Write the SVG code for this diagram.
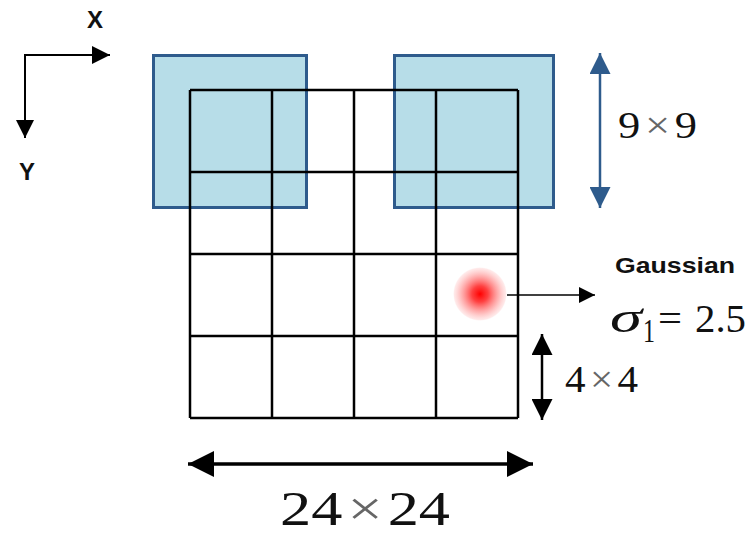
<svg xmlns="http://www.w3.org/2000/svg" width="747" height="536" viewBox="0 0 747 536">
<style>
.win{fill:#b7dde8;stroke:#2e5b8c;stroke-width:3}
.grid line{stroke:#000;stroke-width:2.5}
.ax{stroke:#000;stroke-width:2;fill:none}
.blk{stroke:#000;fill:none}
.blu{stroke:#2e5b8c;fill:none}
.sans{font-family:"Liberation Sans",Arial,sans-serif;fill:#111}
.serif{font-family:"Liberation Serif","Times New Roman",serif;fill:#111}
.times{fill:#666}
</style>
<defs>
<marker id="hAx" viewBox="0 0 10 10" refX="10" refY="5" markerUnits="userSpaceOnUse" markerWidth="27" markerHeight="18" orient="auto-start-reverse"><path d="M0,0L10,5L0,10z" fill="#000"/></marker>
<marker id="hBlue" viewBox="0 0 10 10" refX="10" refY="5" markerUnits="userSpaceOnUse" markerWidth="25" markerHeight="21" orient="auto-start-reverse"><path d="M0,0L10,5L0,10z" fill="#2e5b8c"/></marker>
<marker id="h44" viewBox="0 0 10 10" refX="10" refY="5" markerUnits="userSpaceOnUse" markerWidth="26" markerHeight="21" orient="auto-start-reverse"><path d="M0,0L10,5L0,10z" fill="#000"/></marker>
<marker id="h24" viewBox="0 0 10 10" refX="10" refY="5" markerUnits="userSpaceOnUse" markerWidth="27" markerHeight="26" orient="auto-start-reverse"><path d="M0,0L10,5L0,10z" fill="#000"/></marker>
<marker id="hG" viewBox="0 0 10 10" refX="10" refY="5" markerUnits="userSpaceOnUse" markerWidth="27" markerHeight="16" orient="auto-start-reverse"><path d="M0,0L10,5L0,10z" fill="#000"/></marker>
<radialGradient id="dot">
<stop offset="0" stop-color="#ff0000" stop-opacity="1"/>
<stop offset="0.3" stop-color="#ff2020" stop-opacity="0.85"/>
<stop offset="0.7" stop-color="#ff6060" stop-opacity="0.45"/>
<stop offset="0.95" stop-color="#ff9090" stop-opacity="0.2"/>
<stop offset="1" stop-color="#ffb0b0" stop-opacity="0"/>
</radialGradient>
</defs>

<g id="window-left"><rect class="win" x="153.5" y="55.5" width="153" height="152"/></g>
<g id="window-right"><rect class="win" x="394.5" y="55.5" width="159" height="152"/></g>

<g id="grid" class="grid">
<line x1="190" y1="90" x2="518" y2="90"/>
<line x1="190" y1="172" x2="518" y2="172"/>
<line x1="190" y1="254" x2="518" y2="254"/>
<line x1="190" y1="336" x2="518" y2="336"/>
<line x1="190" y1="418" x2="518" y2="418"/>
<line x1="190" y1="90" x2="190" y2="418"/>
<line x1="272" y1="90" x2="272" y2="418"/>
<line x1="354" y1="90" x2="354" y2="418"/>
<line x1="436" y1="90" x2="436" y2="418"/>
<line x1="518" y1="90" x2="518" y2="418"/>
</g>

<g id="gaussian-dot"><circle cx="480" cy="294" r="27" fill="url(#dot)"/></g>

<g id="connectors">
<path class="ax" d="M25,138V55H110" marker-start="url(#hAx)" marker-end="url(#hAx)"/>
<line class="blu" stroke-width="2.5" x1="600" y1="53" x2="600" y2="208" marker-start="url(#hBlue)" marker-end="url(#hBlue)"/>
<line class="blk" stroke-width="2.5" x1="542" y1="334" x2="542" y2="420" marker-start="url(#h44)" marker-end="url(#h44)"/>
<line class="blk" stroke-width="3.5" x1="188" y1="464" x2="533" y2="464" marker-start="url(#h24)" marker-end="url(#h24)"/>
<line class="blk" stroke-width="1.5" x1="507" y1="295" x2="595" y2="295" marker-end="url(#hG)"/>
</g>

<g id="labels">
<text class="sans" x="95" y="28" font-size="24" font-weight="bold" text-anchor="middle">X</text>
<text class="sans" x="27" y="180" font-size="24" font-weight="bold" text-anchor="middle">Y</text>
<text class="serif" x="618" y="138" font-size="38" textLength="79" lengthAdjust="spacingAndGlyphs">9<tspan class="times" dx="4">×</tspan><tspan dx="4">9</tspan></text>
<text class="serif" x="565" y="392" font-size="38" textLength="73" lengthAdjust="spacingAndGlyphs">4<tspan class="times" dx="4">×</tspan><tspan dx="4">4</tspan></text>
<text class="serif" x="280" y="525" font-size="49" textLength="170" lengthAdjust="spacingAndGlyphs">24<tspan class="times" dx="4">×</tspan><tspan dx="4">24</tspan></text>
<text class="sans" x="615" y="273" font-size="22" font-weight="bold" fill="#222" textLength="120" lengthAdjust="spacingAndGlyphs">Gaussian</text>
<text class="serif" x="610" y="332" font-size="44" font-style="italic" textLength="32" lengthAdjust="spacingAndGlyphs">σ</text>
<text class="serif" x="643" y="342" font-size="34" textLength="12" lengthAdjust="spacingAndGlyphs">1</text>
<text class="serif" x="658" y="332" font-size="40" textLength="24" lengthAdjust="spacingAndGlyphs">=</text>
<text class="serif" x="695" y="332" font-size="40" textLength="51" lengthAdjust="spacingAndGlyphs">2.5</text>
</g>
</svg>
